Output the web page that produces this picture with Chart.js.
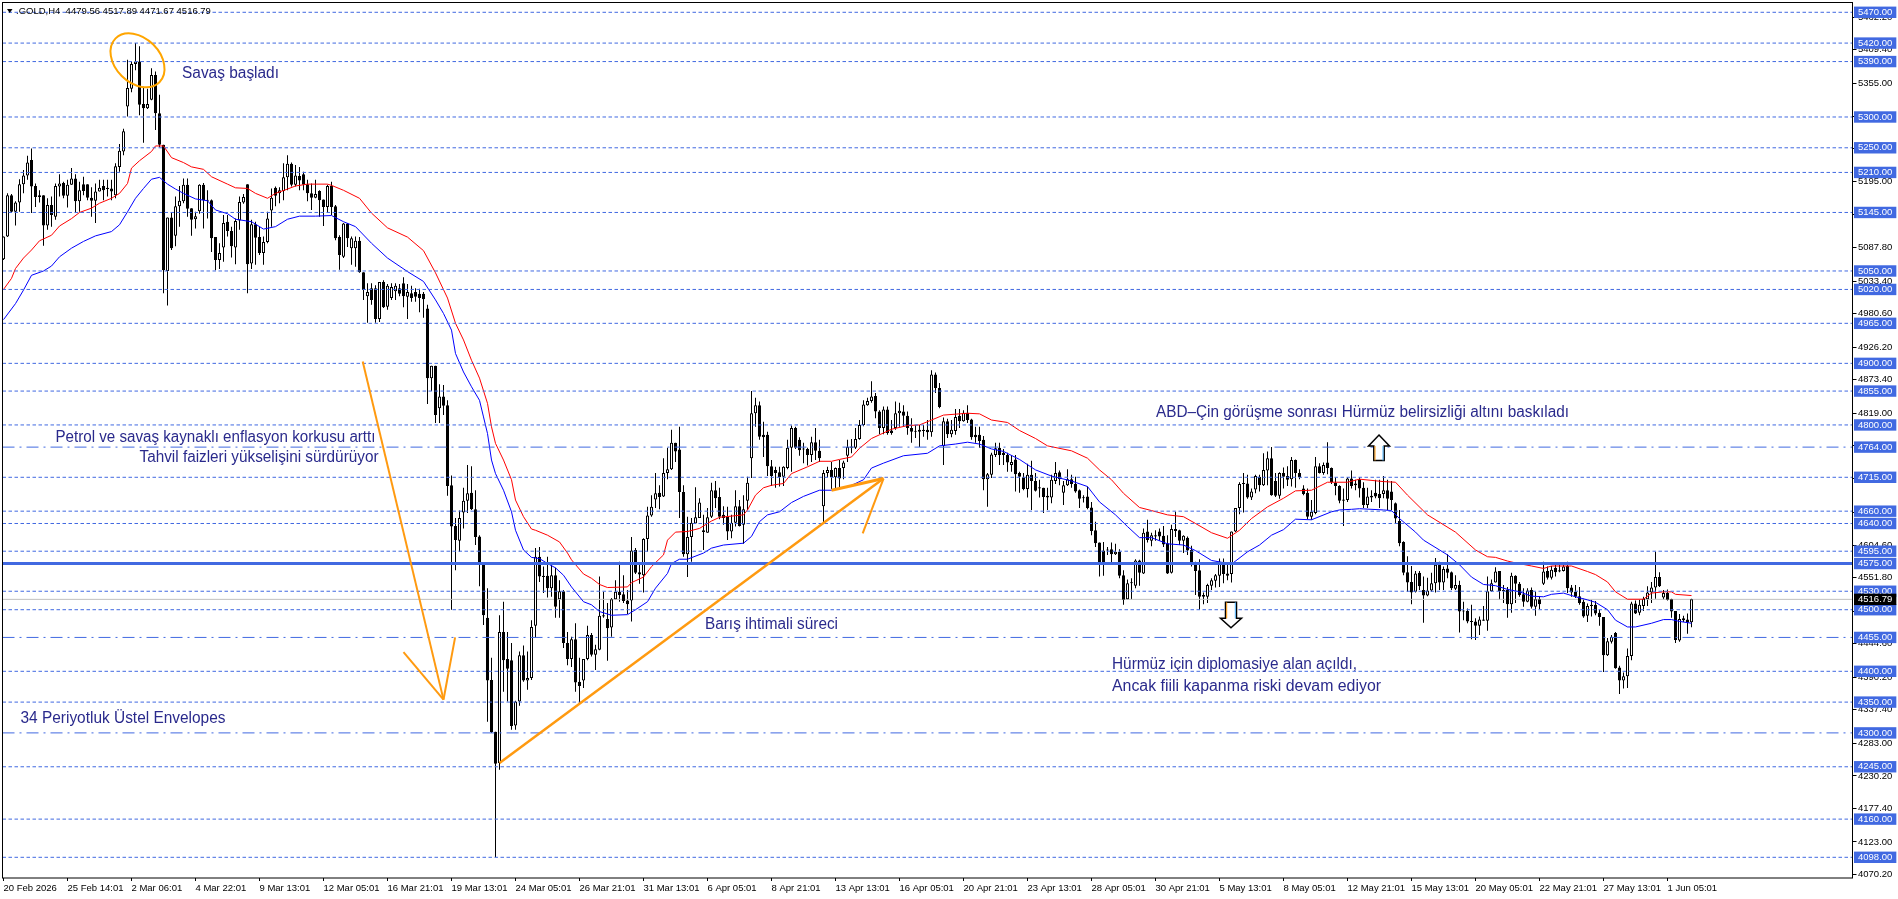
<!DOCTYPE html>
<html>
<head>
<meta charset="utf-8">
<title>GOLD H4</title>
<script src="https://cdn.jsdelivr.net/npm/chart.js@4"></script>
<style>
html, body { margin: 0; padding: 0; background: #fff; }
#wrap { position: relative; width: 1898px; height: 899px; }
</style>
</head>
<body>
<div id="wrap"><canvas id="goldChart"></canvas></div>
<script>
// H4 candles, one row = 10 bars
const opens = [
5069,5106,5173,5146,5161,5191,5205,5230,5188,5170,
5173,5124,5157,5138,5187,5193,5172,5190,5200,5163,
5191,5191,5169,5164,5179,5188,5185,5184,5173,5219,
5244,5317,5346,5386,5390,5321,5314,5328,5368,5306,
5255,5050,5137,5107,5155,5163,5190,5152,5134,5147,
5190,5165,5165,5105,5068,5088,5130,5115,5088,5132,
5161,5191,5062,5126,5105,5079,5097,5148,5185,5176,
5180,5202,5224,5190,5204,5207,5191,5176,5169,5180,
5166,5154,5188,5155,5105,5073,5127,5087,5087,5099,
5048,5009,5022,5022,4972,5032,4992,5006,5017,5022,
5030,5008,5014,5016,5013,5013,4989,4876,4896,4827,
4846,4832,4702,4636,4612,4658,4677,4690,4663,4619,
4573,4487,4386,4302,4251,4464,4420,4418,4312,4351,
4426,4385,4389,4474,4586,4555,4555,4535,4556,4517,
4530,4446,4420,4452,4383,4385,4420,4459,4427,4435,
4491,4485,4471,4517,4529,4525,4515,4515,4597,4561,
4556,4615,4653,4679,4690,4684,4722,4728,4771,4760,
4691,4590,4618,4640,4649,4629,4625,4651,4694,4683,
4654,4651,4627,4641,4668,4638,4677,4746,4819,4832,
4784,4784,4733,4727,4723,4716,4730,4763,4795,4776,
4761,4761,4751,4772,4758,4668,4722,4727,4715,4730,
4730,4750,4765,4763,4777,4800,4832,4839,4847,4822,
4795,4825,4791,4795,4819,4822,4815,4795,4790,4792,
4792,4792,4788,4882,4860,4766,4806,4785,4790,4815,
4806,4820,4809,4784,4784,4776,4712,4719,4751,4763,
4755,4751,4735,4744,4722,4715,4696,4719,4709,4699,
4698,4685,4682,4709,4723,4690,4702,4712,4704,4694,
4682,4684,4666,4629,4609,4596,4597,4598,4590,4594,
4556,4517,4544,4539,4580,4559,4627,4612,4621,4627,
4620,4608,4560,4631,4629,4612,4617,4597,4575,4564,
4524,4521,4539,4547,4555,4578,4559,4558,4627,4665,
4705,4705,4682,4695,4716,4702,4726,4746,4709,4685,
4722,4717,4712,4743,4722,4697,4690,4651,4657,4733,
4722,4739,4730,4706,4701,4679,4678,4713,4705,4712,
4698,4670,4682,4690,4688,4688,4694,4692,4673,4644,
4610,4561,4545,4529,4560,4532,4523,4531,4543,4573,
4544,4567,4561,4534,4540,4498,4498,4481,4481,4474,
4484,4482,4530,4544,4563,4532,4532,4509,4555,4542,
4525,4513,4532,4505,4517,4542,4563,4552,4568,4564,
4563,4571,4536,4529,4522,4513,4490,4508,4508,4495,
4488,4426,4448,4462,4406,4385,4392,4425,4510,4495,
4506,4517,4528,4536,4553,4520,4527,4517,4498,4450,
4486,4484,4479.56];
const highs = [
5106,5176,5175,5163,5199,5214,5237,5249,5192,5181,
5173,5168,5171,5192,5207,5195,5198,5217,5207,5195,
5203,5191,5186,5192,5198,5198,5198,5198,5225,5256,
5281,5393,5390,5420,5415,5349,5346,5379,5374,5336,
5255,5137,5144,5171,5188,5200,5200,5152,5146,5191,
5193,5181,5166,5105,5095,5141,5141,5122,5135,5171,
5175,5191,5133,5130,5122,5106,5146,5184,5187,5186,
5225,5238,5226,5222,5219,5211,5198,5192,5198,5181,
5166,5190,5195,5157,5108,5128,5128,5106,5106,5105,
5048,5030,5030,5027,5032,5035,5029,5030,5030,5029,
5040,5029,5026,5022,5021,5016,4995,4896,4896,4866,
4865,4840,4718,4649,4661,4698,4735,4733,4694,4621,
4573,4535,4422,4302,4491,4513,4464,4446,4352,4432,
4442,4432,4483,4600,4602,4570,4586,4576,4568,4548,
4532,4464,4456,4478,4422,4420,4474,4462,4443,4554,
4529,4511,4519,4548,4578,4556,4532,4618,4600,4576,
4616,4667,4686,4722,4702,4746,4763,4792,4771,4797,
4702,4651,4649,4699,4681,4654,4665,4706,4709,4698,
4668,4667,4654,4694,4678,4686,4716,4855,4844,4838,
4805,4789,4743,4732,4732,4733,4776,4799,4797,4780,
4771,4763,4781,4795,4776,4727,4732,4740,4731,4743,
4742,4776,4777,4795,4808,4840,4844,4871,4852,4824,
4830,4830,4808,4838,4836,4832,4822,4811,4800,4800,
4800,4808,4889,4885,4868,4812,4810,4808,4826,4826,
4824,4832,4810,4797,4797,4782,4722,4755,4771,4771,
4761,4755,4751,4751,4724,4722,4737,4742,4722,4711,
4698,4698,4719,4740,4726,4709,4728,4719,4716,4695,
4686,4700,4675,4643,4609,4610,4602,4609,4607,4598,
4564,4549,4551,4582,4581,4632,4646,4625,4629,4632,
4636,4621,4638,4659,4630,4621,4619,4604,4578,4582,
4528,4542,4551,4558,4583,4583,4575,4627,4665,4707,
4722,4719,4697,4719,4719,4754,4757,4764,4722,4723,
4731,4733,4748,4744,4728,4702,4697,4678,4748,4738,
4739,4772,4731,4715,4702,4697,4715,4726,4711,4715,
4707,4698,4694,4711,4711,4717,4711,4709,4674,4662,
4611,4587,4571,4563,4563,4554,4552,4560,4584,4578,
4570,4590,4562,4556,4547,4513,4502,4508,4486,4489,
4506,4554,4549,4569,4563,4540,4537,4560,4556,4545,
4535,4535,4536,4529,4522,4578,4570,4571,4574,4575,
4574,4578,4540,4540,4537,4518,4510,4516,4514,4500,
4488,4454,4459,4464,4409,4398,4437,4513,4515,4517,
4521,4538,4545,4594,4561,4532,4533,4518,4498,4493,
4490,4494,4517.89];
const lows = [
5068,5105,5145,5124,5146,5176,5198,5144,5154,5161,
5091,5117,5122,5133,5171,5168,5153,5190,5144,5146,
5173,5165,5138,5128,5179,5165,5171,5165,5168,5211,
5238,5301,5340,5376,5303,5258,5313,5327,5279,5251,
5014,4994,5084,5090,5122,5160,5138,5107,5119,5143,
5119,5135,5081,5051,5053,5065,5106,5072,5061,5117,
5159,5014,5053,5060,5076,5060,5095,5122,5155,5160,
5165,5181,5187,5187,5181,5181,5163,5149,5168,5138,
5123,5144,5141,5100,5052,5071,5089,5060,5057,5047,
5003,4966,4995,4966,4967,4990,4987,5003,5003,5009,
4991,4972,5000,5000,4983,4974,4834,4855,4803,4803,
4816,4685,4500,4564,4594,4632,4657,4662,4605,4538,
4475,4318,4300,4098,4240,4367,4351,4305,4305,4344,
4383,4370,4386,4454,4545,4527,4520,4521,4487,4487,
4438,4410,4407,4367,4348,4373,4418,4424,4402,4434,
4487,4417,4456,4516,4513,4511,4493,4481,4558,4542,
4528,4594,4651,4665,4663,4683,4712,4727,4740,4649,
4586,4553,4578,4639,4649,4597,4625,4649,4665,4647,
4638,4613,4616,4635,4635,4607,4662,4714,4797,4776,
4748,4717,4701,4698,4700,4701,4728,4724,4761,4750,
4738,4734,4740,4743,4740,4642,4715,4696,4696,4698,
4712,4740,4754,4761,4776,4798,4831,4836,4811,4785,
4785,4784,4784,4792,4797,4797,4784,4771,4779,4764,
4781,4776,4781,4852,4827,4735,4779,4780,4784,4795,
4805,4803,4776,4771,4763,4694,4667,4714,4748,4735,
4735,4724,4724,4692,4690,4694,4682,4662,4692,4682,
4657,4662,4673,4704,4702,4670,4701,4698,4690,4665,
4674,4663,4621,4602,4554,4555,4589,4574,4589,4551,
4508,4516,4517,4535,4539,4558,4609,4603,4612,4612,
4602,4558,4559,4618,4605,4592,4589,4570,4524,4500,
4509,4511,4532,4536,4537,4543,4548,4544,4626,4655,
4658,4680,4678,4689,4692,4701,4702,4685,4683,4680,
4697,4701,4700,4698,4712,4686,4647,4646,4655,4721,
4719,4720,4704,4686,4673,4636,4675,4697,4694,4682,
4665,4665,4675,4681,4665,4681,4662,4662,4640,4603,
4556,4529,4509,4528,4532,4479,4522,4529,4528,4532,
4532,4551,4532,4532,4463,4483,4478,4452,4451,4459,
4482,4466,4529,4544,4516,4511,4487,4495,4511,4521,
4505,4512,4502,4490,4501,4540,4549,4549,4554,4561,
4562,4527,4521,4519,4508,4487,4480,4489,4491,4474,
4399,4425,4445,4404,4363,4372,4373,4418,4493,4491,
4498,4506,4511,4518,4537,4516,4515,4487,4446,4448,
4480,4461,4471.67];
const closes = [
5106,5173,5146,5161,5191,5205,5226,5187,5170,5173,
5124,5157,5141,5188,5192,5172,5190,5200,5163,5181,
5180,5169,5164,5179,5185,5181,5183,5179,5220,5245,
5277,5347,5386,5390,5320,5314,5321,5368,5306,5255,
5051,5137,5087,5155,5164,5190,5151,5133,5139,5190,
5165,5164,5103,5068,5079,5128,5115,5090,5131,5162,
5170,5061,5126,5104,5079,5097,5135,5169,5172,5181,
5202,5224,5190,5205,5197,5190,5176,5169,5175,5165,
5154,5188,5154,5103,5076,5127,5103,5103,5099,5048,
5019,5016,5003,4972,5032,4991,5026,5024,5026,5013,
5009,5016,5006,5008,5006,5004,4876,4896,4816,4846,
4831,4701,4635,4613,4649,4677,4689,4663,4618,4573,
4491,4385,4301,4250,4464,4418,4404,4311,4351,4426,
4385,4389,4472,4586,4554,4553,4535,4556,4505,4530,
4446,4420,4452,4382,4376,4420,4459,4427,4436,4490,
4489,4470,4517,4529,4524,4514,4509,4596,4560,4557,
4615,4653,4667,4689,4683,4722,4728,4771,4757,4691,
4590,4618,4641,4650,4674,4626,4650,4694,4681,4651,
4649,4627,4641,4668,4636,4663,4706,4819,4832,4781,
4780,4733,4717,4722,4715,4732,4763,4795,4763,4759,
4760,4751,4772,4758,4746,4722,4727,4715,4730,4713,
4739,4764,4763,4777,4800,4833,4839,4846,4822,4795,
4825,4787,4787,4819,4823,4815,4795,4789,4789,4789,
4790,4788,4882,4860,4829,4806,4785,4792,4813,4806,
4820,4808,4780,4780,4774,4712,4720,4752,4762,4751,
4751,4739,4740,4720,4716,4696,4719,4709,4693,4697,
4683,4682,4711,4722,4712,4702,4712,4704,4692,4680,
4681,4665,4628,4608,4573,4574,4596,4590,4594,4555,
4516,4543,4543,4580,4560,4625,4613,4621,4619,4619,
4606,4559,4631,4628,4612,4620,4596,4575,4563,4521,
4521,4540,4548,4556,4578,4558,4555,4627,4665,4704,
4704,4682,4692,4717,4702,4727,4746,4686,4685,4722,
4716,4711,4743,4722,4715,4688,4651,4659,4733,4722,
4735,4730,4707,4701,4677,4677,4713,4701,4702,4697,
4670,4684,4685,4684,4681,4694,4680,4678,4648,4608,
4560,4544,4528,4559,4538,4523,4531,4543,4573,4544,
4566,4560,4535,4540,4497,4497,4481,4480,4474,4484,
4482,4530,4543,4562,4530,4530,4509,4555,4542,4524,
4513,4531,4505,4517,4509,4562,4552,4565,4561,4562,
4570,4535,4528,4521,4511,4489,4506,4506,4494,4488,
4426,4449,4456,4405,4385,4392,4425,4510,4494,4508,
4518,4528,4536,4553,4538,4527,4516,4497,4451,4485,
4483,4479,4516.79];

// 34 period exponential envelopes, read at the bars where the line turns
const upperBars = [0,2,3,5,7,9,12,14,17,19,22,24,27,29,31,32,34,37,38,40,42,45,47,50,52,56,58,61,63,66,68,71,73,76,81,82,85,89,92,96,101,105,108,111,113,115,117,119,121,122,123,125,127,128,130,132,133,136,139,141,142,145,147,149,151,156,157,160,162,165,166,168,171,174,177,179,185,186,188,190,192,195,197,201,204,207,209,212,214,217,219,222,226,229,232,235,241,244,247,251,254,258,261,267,271,274,277,280,284,287,291,295,298,302,306,309,312,316,320,323,327,331,336,339,345,348,351,356,363,368,371,373,376,378,382,385,387,392,396,398,401,403,406,410,412,415,417,418,422];
const upperValues = [5020,5038,5054,5071,5084,5099,5108,5123,5135,5145,5152,5160,5168,5176,5192,5217,5229,5244,5253,5253,5234,5226,5219,5215,5203,5191,5185,5184,5176,5168,5176,5183,5188,5191,5191,5189,5181,5168,5144,5120,5105,5083,5047,5006,4965,4938,4905,4876,4835,4797,4770,4743,4711,4678,4651,4631,4629,4621,4610,4592,4581,4558,4551,4541,4536,4537,4544,4553,4570,4589,4613,4626,4627,4632,4644,4650,4654,4662,4686,4698,4702,4705,4721,4732,4741,4741,4744,4748,4762,4778,4784,4793,4799,4800,4808,4816,4819,4818,4808,4804,4791,4778,4766,4758,4746,4727,4711,4689,4666,4661,4654,4651,4640,4625,4616,4629,4648,4667,4681,4693,4694,4707,4707,4712,4708,4707,4686,4654,4626,4597,4586,4585,4579,4576,4571,4567,4571,4571,4562,4557,4545,4529,4517,4517,4527,4529,4529,4525,4523];
const lowerBars = [0,3,5,7,10,12,14,17,20,23,27,29,31,33,35,37,39,41,43,45,48,51,53,56,58,62,65,68,71,74,78,82,85,88,92,96,101,105,108,110,112,113,115,117,119,120,121,122,123,125,127,128,130,132,134,136,138,140,142,145,147,149,152,156,158,161,163,166,167,169,171,175,177,180,185,187,189,191,194,197,200,204,207,212,215,217,220,225,231,234,238,241,244,247,250,254,258,262,267,271,274,278,281,284,287,291,295,298,302,307,311,314,317,320,323,327,332,334,337,339,345,347,349,353,355,359,361,364,367,370,373,376,379,382,385,387,390,393,396,398,401,403,406,408,412,415,417,419,422];
const lowerValues = [4971,4997,5019,5043,5050,5058,5073,5087,5098,5107,5114,5125,5146,5168,5184,5199,5202,5191,5183,5176,5167,5164,5149,5143,5134,5130,5118,5122,5134,5139,5139,5140,5130,5122,5095,5071,5049,5033,5003,4981,4954,4916,4886,4862,4840,4813,4786,4743,4721,4694,4659,4629,4597,4585,4583,4575,4568,4556,4537,4513,4508,4497,4491,4492,4500,4513,4535,4559,4575,4582,4582,4592,4600,4605,4608,4619,4643,4654,4659,4674,4684,4694,4694,4702,4711,4730,4738,4750,4754,4766,4769,4772,4769,4761,4757,4744,4727,4717,4709,4700,4675,4654,4635,4617,4617,4607,4605,4596,4580,4574,4594,4605,4621,4630,4647,4646,4659,4662,4663,4664,4662,4661,4648,4626,4613,4597,4589,4573,4553,4541,4539,4533,4529,4522,4521,4525,4527,4521,4516,4512,4500,4483,4472,4472,4478,4484,4484,4481,4478];

// price axis
const axisTicks = [5462.2,5409.4,5355,5301.4,5248.2,5195,5141,5087.8,5033.4,4980.6,4926.2,4873.4,4819,4766.2,4712.6,4658.2,4604.6,4551.8,4497.4,4444.6,4390.2,4337.4,4283,4230.2,4177.4,4123,4070.2];
const dashedLevels = [5470,5420,5390,5300,5250,5210,5145,5050,5020,4965,4900,4855,4800,4715,4660,4640,4595,4530,4500,4400,4350,4245,4160,4098];
const dashDotLevels = [4764,4455,4300];
const solidLevels = [4575];
const lastPrice = 4516.79;

// time axis, one label every 16 bars
const timeLabels = ["20 Feb 2026","25 Feb 14:01","2 Mar 06:01","4 Mar 22:01","9 Mar 13:01","12 Mar 05:01","16 Mar 21:01","19 Mar 13:01","24 Mar 05:01","26 Mar 21:01","31 Mar 13:01","6 Apr 05:01","8 Apr 21:01","13 Apr 13:01","16 Apr 05:01","20 Apr 21:01","23 Apr 13:01","28 Apr 05:01","30 Apr 21:01","5 May 13:01","8 May 05:01","12 May 21:01","15 May 13:01","20 May 05:01","22 May 21:01","27 May 13:01","1 Jun 05:01"];

// orange drawing tools, bar / price pairs
const trendLines = [
    [[89.8,4903],[110,4354]],
    [[100,4431],[110,4354]],
    [[112.9,4455],[110,4354]],
    [[124,4251],[220,4713]],
    [[207,4694],[220,4713]],
    [[214.8,4624],[220,4713]]
];
const trendWidths = [2, 2, 2, 2.5, 3, 2];

const xMin = -0.25, xMax = 462.25;
const BLUE = "#4169E1";
const tagLevels = dashedLevels.concat(dashDotLevels, solidLevels);
const labelFont = { family: "'Liberation Sans', Arial, sans-serif", size: 9.5 };

function levelDataset(value, color, width, dash, order) {
    return {
        type: "line",
        data: [{ x: xMin, y: value }, { x: xMax, y: value }],
        borderColor: color,
        borderWidth: width,
        borderDash: dash,
        pointRadius: 0,
        order: order
    };
}

function pairs(bars, values) {
    return bars.map(function (b, i) { return { x: b, y: values[i] }; });
}

const datasets = [];

// level lines sit over the candles
dashedLevels.forEach(function (v) { datasets.push(levelDataset(v, BLUE, 1, [3.5, 2.5], 2)); });
dashDotLevels.forEach(function (v) { datasets.push(levelDataset(v, BLUE, 1, [12, 5, 2, 5], 2)); });
solidLevels.forEach(function (v) { datasets.push(levelDataset(v, BLUE, 3, [], 1)); });
datasets.push(levelDataset(lastPrice, "#C0C0C0", 1, [], 5));

// envelopes
datasets.push({ type: "line", data: pairs(upperBars, upperValues), borderColor: "#FF0000", borderWidth: 1, pointRadius: 0, order: 3 });
datasets.push({ type: "line", data: pairs(lowerBars, lowerValues), borderColor: "#0000FF", borderWidth: 1, pointRadius: 0, order: 3 });

// orange lines
trendLines.forEach(function (t, i) {
    datasets.push({
        type: "line",
        data: t.map(function (p) { return { x: p[0], y: p[1] }; }),
        borderColor: "#FF9A10",
        borderWidth: trendWidths[i],
        pointRadius: 0,
        order: 0
    });
});

// candle bodies and wicks
datasets.push({
    type: "bar",
    data: opens.map(function (o, i) { return { x: i, y: [o, closes[i]] }; }),
    backgroundColor: function (c) { return closes[c.dataIndex] >= opens[c.dataIndex] ? "#FFFFFF" : "#000000"; },
    borderColor: "#000000",
    borderWidth: 1,
    borderSkipped: false,
    inflateAmount: 0,
    barThickness: 3,
    minBarLength: 1,
    grouped: false,
    order: 4
});
datasets.push({
    type: "bar",
    data: lows.map(function (l, i) { return { x: i, y: [l, highs[i]] }; }),
    backgroundColor: "#000000",
    borderWidth: 0,
    inflateAmount: 0,
    barThickness: 1,
    grouped: false,
    order: 6
});

// text notes, frame and hand drawn marks
const notes = [
    { text: "Savaş başladı", x: 182, y: 78, w: 97 },
    { text: "Petrol ve savaş kaynaklı enflasyon korkusu arttı", x: 55.5, y: 442, w: 320 },
    { text: "Tahvil faizleri yükselişini sürdürüyor", x: 139.5, y: 462, w: 239 },
    { text: "34 Periyotluk Üstel Envelopes", x: 20.5, y: 723, w: 205 },
    { text: "Barış ihtimali süreci", x: 705, y: 629, w: 133 },
    { text: "ABD–Çin görüşme sonrası Hürmüz belirsizliği altını baskıladı", x: 1156, y: 417, w: 413 },
    { text: "Hürmüz için diplomasiye alan açıldı,", x: 1112, y: 669, w: 245 },
    { text: "Ancak fiili kapanma riski devam ediyor", x: 1112, y: 691, w: 269 }
];

const overlay = {
    id: "overlay",
    afterDatasetsDraw: function (chart) {
        const ctx = chart.ctx, a = chart.chartArea;
        ctx.save();
        ctx.strokeStyle = "#000000";
        ctx.lineWidth = 1;
        ctx.strokeRect(a.left, a.top, a.right - a.left, a.bottom - a.top);

        // ring around the top
        ctx.strokeStyle = "#FFA500";
        ctx.lineWidth = 2;
        ctx.beginPath();
        ctx.ellipse(137.5, 60.3, 31, 22.3, Math.PI / 4, 0, Math.PI * 2);
        ctx.stroke();

        // hollow arrows
        arrow(ctx, 1379, 435, 460.5, 446, 10.5, 5.2);
        arrow(ctx, 1231, 627.7, 602.3, 618.3, 10.5, 5.5);

        // header
        ctx.fillStyle = "#000000";
        ctx.beginPath();
        ctx.moveTo(7, 9);
        ctx.lineTo(12.5, 9);
        ctx.lineTo(9.7, 13);
        ctx.closePath();
        ctx.fill();
        ctx.font = "9.5px 'Liberation Sans', Arial, sans-serif";
        ctx.textAlign = "left";
        ctx.textBaseline = "alphabetic";
        ctx.fillText(".GOLD,H4  4479.56 4517.89 4471.67 4516.79", 16, 14);

        ctx.fillStyle = "#2A2A8C";
        ctx.font = "16px 'Liberation Sans', Arial, sans-serif";
        notes.forEach(function (n) { ctx.fillText(n.text, n.x, n.y, n.w); });
        ctx.restore();
    }
};

// arrow from tip to tail, head ends at neck
function arrow(ctx, x, tip, tail, neck, headHalf, shaftHalf) {
    ctx.strokeStyle = "#000000";
    ctx.lineWidth = 1.5;
    ctx.fillStyle = "#FFFFFF";
    ctx.beginPath();
    ctx.moveTo(x, tip);
    ctx.lineTo(x + headHalf, neck);
    ctx.lineTo(x + shaftHalf, neck);
    ctx.lineTo(x + shaftHalf, tail);
    ctx.lineTo(x - shaftHalf, tail);
    ctx.lineTo(x - shaftHalf, neck);
    ctx.lineTo(x - headHalf, neck);
    ctx.closePath();
    ctx.fill();
    ctx.stroke();
    // coloured inner edge of the shaft
    ctx.lineWidth = 1;
    ctx.strokeStyle = "#FF9A10";
    ctx.beginPath();
    ctx.moveTo(x - shaftHalf + 1.2, neck);
    ctx.lineTo(x - shaftHalf + 1.2, tail);
    ctx.stroke();
    ctx.strokeStyle = "#4FB4FF";
    ctx.beginPath();
    ctx.moveTo(x + shaftHalf - 1.2, neck);
    ctx.lineTo(x + shaftHalf - 1.2, tail);
    ctx.stroke();
}

new Chart(document.getElementById("goldChart").getContext("2d"), {
    data: { datasets: datasets },
    plugins: [overlay],
    options: {
        responsive: true,
        maintainAspectRatio: false,
        animation: false,
        events: [],
        layout: { padding: { left: 2.5, top: 2.5, right: 0, bottom: 0 } },
        plugins: { legend: { display: false }, tooltip: { enabled: false } },
        scales: {
            x: {
                type: "linear",
                offset: false,
                min: xMin,
                max: xMax,
                afterFit: function (s) { s.height = 21; },
                afterBuildTicks: function (s) {
                    s.ticks = timeLabels.map(function (t, i) { return { value: i * 16 }; });
                },
                border: { display: false },
                grid: { offset: false, drawOnChartArea: false, tickLength: 3, tickColor: "#000000", tickWidth: 1 },
                ticks: {
                    autoSkip: false,
                    maxRotation: 0,
                    align: "start",
                    padding: 2,
                    color: "#000000",
                    font: labelFont,
                    callback: function (v, i) { return timeLabels[i]; }
                }
            },
            y: {
                position: "right",
                min: 4064.4,
                max: 5485.9,
                afterFit: function (s) {
                    s.width = 45.5;
                    // labels stay inside the plot height, no extra room needed
                    s.paddingTop = 0;
                    s.paddingBottom = 0;
                },
                afterBuildTicks: function (s) {
                    s.ticks = axisTicks.concat(tagLevels, [lastPrice]).map(function (v) { return { value: v }; });
                },
                border: { display: false },
                grid: {
                    drawOnChartArea: false,
                    tickLength: 4,
                    tickWidth: 1,
                    tickColor: function (c) { return axisTicks.indexOf(c.tick.value) >= 0 ? "#000000" : "rgba(0,0,0,0)"; }
                },
                ticks: {
                    autoSkip: false,
                    padding: 1.5,
                    font: labelFont,
                    callback: function (v) { return v.toFixed(2); },
                    color: function (c) { return axisTicks.indexOf(c.tick.value) >= 0 ? "#000000" : "#FFFFFF"; },
                    showLabelBackdrop: function (c) { return axisTicks.indexOf(c.tick.value) < 0; },
                    backdropColor: function (c) { return c.tick.value === lastPrice ? "#000000" : BLUE; },
                    backdropPadding: { left: 4, right: 4, top: 0, bottom: 0 }
                }
            }
        }
    }
});
</script>
</body>
</html>
